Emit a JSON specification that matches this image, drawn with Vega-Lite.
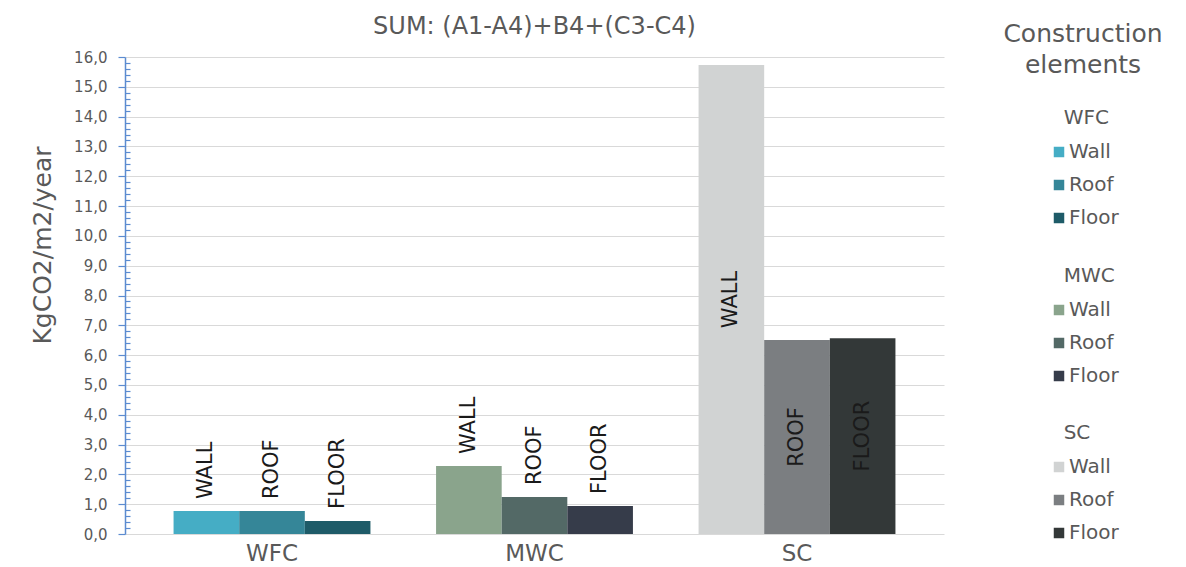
{
  "$schema": "https://vega.github.io/schema/vega-lite/v6.json",
  "width": 819,
  "height": 477,
  "autosize": "none",
  "padding": {"left": 125, "top": 57, "right": 242, "bottom": 33},
  "background": "white",
  "title": {
    "text": "SUM: (A1-A4)+B4+(C3-C4)",
    "font": "DejaVu Sans",
    "fontSize": 24,
    "fontWeight": "normal",
    "color": "#595959",
    "anchor": "middle",
    "frame": "group",
    "baseline": "alphabetic",
    "offset": 0,
    "dy": 36
  },
  "data": {
    "values": [
      {"construction": "WFC", "element": "Wall", "label": "WALL", "value": 0.77},
      {"construction": "WFC", "element": "Roof", "label": "ROOF", "value": 0.77},
      {"construction": "WFC", "element": "Floor", "label": "FLOOR", "value": 0.44},
      {"construction": "MWC", "element": "Wall", "label": "WALL", "value": 2.28},
      {"construction": "MWC", "element": "Roof", "label": "ROOF", "value": 1.24},
      {"construction": "MWC", "element": "Floor", "label": "FLOOR", "value": 0.94},
      {"construction": "SC", "element": "Wall", "label": "WALL", "value": 15.73},
      {"construction": "SC", "element": "Roof", "label": "ROOF", "value": 6.51},
      {"construction": "SC", "element": "Floor", "label": "FLOOR", "value": 6.57}
    ]
  },
  "encoding": {
    "x": {
      "field": "construction",
      "type": "nominal",
      "sort": ["WFC", "MWC", "SC"],
      "scale": {"paddingInner": 0.25, "paddingOuter": 0.185},
      "axis": {
        "title": null,
        "labelAngle": 0,
        "labelFont": "DejaVu Sans",
        "labelFontSize": 23,
        "labelColor": "#595959",
        "labelPadding": 8,
        "ticks": false,
        "domain": false,
        "grid": false
      }
    },
    "xOffset": {
      "field": "element",
      "type": "nominal",
      "sort": ["Wall", "Roof", "Floor"],
      "scale": {"paddingInner": 0, "paddingOuter": 0}
    }
  },
  "layer": [
    {
      "transform": [{"filter": "datum.construction == 'WFC'"}],
      "mark": {"type": "bar"},
      "encoding": {
        "y": {
          "field": "value",
          "type": "quantitative",
          "scale": {"domain": [0, 16], "nice": false},
          "axis": {
            "title": "KgCO2/m2/year",
            "titleFont": "DejaVu Sans",
            "titleFontSize": 25,
            "titleFontWeight": "normal",
            "titleColor": "#595959",
            "titleAngle": 270,
            "titleAlign": "center",
            "titleBaseline": "alphabetic",
            "titleX": -75,
            "titleY": 188,
            "values": [0,0.2,0.4,0.6,0.8,1,1.2,1.4,1.6,1.8,2,2.2,2.4,2.6,2.8,3,3.2,3.4,3.6,3.8,4,4.2,4.4,4.6,4.8,5,5.2,5.4,5.6,5.8,6,6.2,6.4,6.6,6.8,7,7.2,7.4,7.6,7.8,8,8.2,8.4,8.6,8.8,9,9.2,9.4,9.6,9.8,10,10.2,10.4,10.6,10.8,11,11.2,11.4,11.6,11.8,12,12.2,12.4,12.6,12.8,13,13.2,13.4,13.6,13.8,14,14.2,14.4,14.6,14.8,15,15.2,15.4,15.6,15.8,16],
            "labelExpr": "abs(datum.value - round(datum.value)) < 0.01 ? replace(format(datum.value, '.1f'), '.', ',') : ''",
            "labelFont": "DejaVu Sans",
            "labelFontSize": 15,
            "labelColor": "#595959",
            "labelPadding": 11,
            "domainColor": "#5b8bd0",
            "domainWidth": 1.5,
            "tickColor": "#5b8bd0",
            "tickWidth": 1.2,
            "tickSize": {"condition": {"test": "abs(datum.value - round(datum.value)) < 0.01", "value": 7}, "value": -5},
            "grid": true,
            "gridColor": "#d9d9d9",
            "gridWidth": 1.2,
            "gridOpacity": {"condition": {"test": "abs(datum.value - round(datum.value)) < 0.01", "value": 1}, "value": 0}
          }
        },
        "color": {
          "field": "element",
          "type": "nominal",
          "scale": {"domain": ["Wall", "Roof", "Floor"], "range": ["#45adc5", "#358698", "#1e5b68"]},
          "legend": {"title": "\u2800WFC", "orient": "none", "legendX": 924, "legendY": 51}
        }
      }
    },
    {
      "transform": [{"filter": "datum.construction == 'MWC'"}],
      "mark": {"type": "bar"},
      "encoding": {
        "y": {"field": "value", "type": "quantitative", "scale": {"domain": [0, 16], "nice": false}, "axis": null},
        "color": {
          "field": "element",
          "type": "nominal",
          "scale": {"domain": ["Wall", "Roof", "Floor"], "range": ["#8aa48c", "#536966", "#363c4a"]},
          "legend": {"title": "\u2800MWC", "orient": "none", "legendX": 924, "legendY": 209}
        }
      }
    },
    {
      "transform": [{"filter": "datum.construction == 'SC'"}],
      "mark": {"type": "bar"},
      "encoding": {
        "y": {"field": "value", "type": "quantitative", "scale": {"domain": [0, 16], "nice": false}, "axis": null},
        "color": {
          "field": "element",
          "type": "nominal",
          "scale": {"domain": ["Wall", "Roof", "Floor"], "range": ["#d1d3d3", "#7b7e81", "#333838"]},
          "legend": {"title": "\u2800SC", "orient": "none", "legendX": 924, "legendY": 366}
        }
      }
    },
    {
      "transform": [{"filter": "datum.construction != 'SC'"}],
      "mark": {"type": "text", "angle": 270, "align": "left", "baseline": "middle", "dx": 12, "font": "DejaVu Sans", "fontSize": 21, "color": "#1a1a1a"},
      "encoding": {
        "y": {"field": "value", "type": "quantitative", "scale": {"domain": [0, 16], "nice": false}, "axis": null},
        "text": {"field": "label"}
      }
    },
    {
      "transform": [{"filter": "datum.construction == 'SC'"}],
      "mark": {"type": "text", "angle": 270, "align": "center", "baseline": "middle", "font": "DejaVu Sans", "fontSize": 21, "color": "#1a1a1a"},
      "encoding": {
        "y": {"field": "value", "type": "quantitative", "scale": {"domain": [0, 32], "nice": false}, "axis": null},
        "text": {"field": "label"}
      }
    },
    {
      "mark": {"type": "point", "opacity": 0},
      "encoding": {
        "shape": {
          "datum": "Construction elements",
          "legend": {
            "title": ["Construction", "elements"],
            "orient": "none",
            "legendX": 878,
            "legendY": -35,
            "titleFontSize": 25,
            "titleLineHeight": 31,
            "titleAlign": "center",
            "titleAnchor": "start",
            "labelExpr": "''",
            "symbolOpacity": 0,
            "symbolSize": 0
          }
        }
      }
    }
  ],
  "resolve": {"scale": {"color": "independent", "y": "independent"}},
  "config": {
    "view": {"stroke": null},
    "legend": {
      "labelFont": "DejaVu Sans",
      "labelFontSize": 20,
      "labelColor": "#595959",
      "titleFont": "DejaVu Sans",
      "titleFontSize": 20,
      "titleFontWeight": "normal",
      "titleColor": "#595959",
      "titlePadding": 14,
      "symbolType": "square",
      "symbolSize": 110,
      "symbolStrokeWidth": 0,
      "symbolOpacity": 1,
      "rowPadding": 13,
      "labelOffset": 0,
      "padding": 0
    }
  }
}
